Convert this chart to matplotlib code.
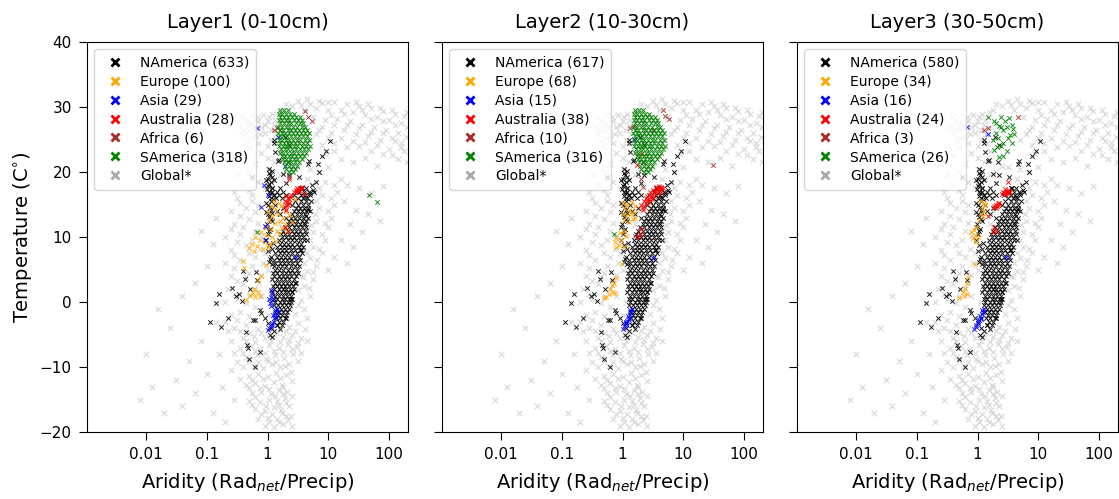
import numpy as np
import matplotlib.pyplot as plt
from matplotlib.lines import Line2D

# points are (log10 aridity, temperature in C)
TITLES = ["Layer1 (0-10cm)", "Layer2 (10-30cm)", "Layer3 (30-50cm)"]
REGIONS = ["NAmerica", "Europe", "Asia", "Australia", "Africa", "SAmerica"]
COLORS = ["black", "orange", "blue", "red", "brown", "green"]
COUNTS = [
    [633, 100, 29, 28, 6, 318],
    [617, 68, 15, 38, 10, 316],
    [580, 34, 16, 24, 3, 26],
]

GLOBAL = [
    (-0.05, -19), (0.1, -19.2), (0.25, -18.8), (0.4, -19), (-0.15, -18), (0.0, -17.8),
    (0.15, -18), (0.3, -17.5), (-0.2, -16.5), (-0.05, -16.8), (0.1, -16.2), (0.22, -16.6),
    (0.35, -16), (-0.3, -15.2), (-0.12, -15.4), (0.02, -15), (0.15, -15.3), (0.28, -14.8),
    (-0.25, -14), (-0.1, -13.8), (0.05, -14.2), (0.18, -13.6), (0.32, -13.9), (-0.35, -12.8),
    (-0.2, -12.5), (-0.05, -12.9), (0.1, -12.3), (0.24, -12.7), (0.4, -12.2), (-0.3, -11.4),
    (-0.15, -11), (0.0, -11.5), (0.14, -10.9), (0.3, -11.2), (-0.4, -10), (-0.22, -9.8),
    (-0.08, -10.2), (0.07, -9.6), (0.2, -10), (0.36, -9.5), (-0.35, -8.5), (-0.18, -8.2),
    (-0.03, -8.7), (0.12, -8.1), (0.27, -8.6), (0.42, -8), (-0.45, -7), (-0.28, -6.8),
    (-0.12, -7.2), (0.03, -6.6), (0.18, -7), (0.33, -6.5), (0.48, -6.9), (-0.4, -5.5),
    (-0.22, -5.2), (-0.05, -5.6), (0.1, -5.1), (0.25, -5.4), (0.4, -5), (0.55, -5.5),
    (0.03, -18.4), (0.18, -18.5), (0.33, -18.2), (-0.1, -17.2), (0.08, -17.3), (0.23, -17.1),
    (0.38, -17.6), (-0.25, -15.8), (-0.03, -16.0), (0.18, -15.9), (0.3, -15.6), (-0.2, -14.6),
    (0.12, -14.5), (0.25, -14.2), (0.4, -14.5), (-0.3, -13.2), (-0.12, -13.2), (0.03, -13.4),
    (0.25, -13.1), (-0.45, -11.8), (-0.25, -12.0), (-0.08, -11.8), (0.2, -11.7), (0.38, -10.7),
    (-0.5, -9.2), (-0.3, -9.0), (-0.15, -9.3), (0.0, -9.0), (0.14, -9.2), (0.28, -9.8),
    (0.5, -9.0), (-0.55, -7.8), (-0.4, -7.8), (-0.2, -7.6), (-0.05, -7.9), (0.1, -7.5),
    (0.25, -7.7), (0.4, -7.3), (0.55, -7.8), (-0.6, -6.0), (-0.35, -6.0), (-0.2, -6.2),
    (0.05, -6.0), (0.2, -6.2), (0.35, -5.8), (0.5, -6.3), (0.65, -6.0), (-0.65, -4.5),
    (-0.45, -4.5), (-0.3, -4.8), (-0.1, -4.7), (0.15, -4.8), (0.3, -4.5), (0.45, -4.4),
    (0.62, -4.2),
    (-0.55, -4), (-0.35, -3.5), (-0.15, -4.2), (0.35, -3.8), (0.5, -3.2), (-0.6, -2),
    (-0.45, -1.5), (0.45, -1.8), (0.6, -1), (-0.7, 0), (-0.5, 0.5), (0.55, 0.3), (0.7, 1),
    (-0.65, 2), (-0.4, 2.8), (0.6, 2.5), (0.75, 3.5), (-0.6, 4), (-0.3, 4.5), (0.65, 4.8),
    (0.8, 5.5), (-0.7, 6), (-0.45, 6.5), (-0.2, 7), (0.7, 6.8), (0.9, 7.5), (-0.6, 8),
    (-0.35, 8.8), (0.75, 8.5), (0.95, 9.5), (-0.7, 10), (-0.45, 10.5), (-0.2, 11),
    (0.75, 10.8), (1.0, 11.5), (-0.55, 12), (-0.3, 12.8), (0.8, 12.5), (1.05, 13),
    (-0.6, 14), (-0.35, 14.5), (-0.15, 15), (0.85, 14.5), (1.1, 15), (-0.5, 16),
    (-0.25, 16.5), (0.9, 16.5), (1.15, 17), (-0.4, 18), (-0.15, 18.5), (0.1, 19),
    (0.65, 19), (0.95, 18.5), (1.2, 19), (-0.3, 20), (0.0, 20.5), (0.3, 20), (0.7, 20.5),
    (1.0, 20.8), (0.0, -2), (0.05, 0), (-0.1, 1), (-0.15, 3), (0.0, 5), (-0.05, 7.5),
    (0.1, 9), (0.2, 12), (0.25, 14), (0.6, 8), (0.55, 4), (0.65, 11),
    (-0.7, -3), (-0.5, -2.8), (-0.3, -2.2), (-0.2, -0.8), (-0.35, -0.2), (0.5, -0.5),
    (0.65, -2.5), (-0.55, 1.2), (-0.3, 1.0), (-0.2, 2.0), (0.5, 1.8), (0.68, 2.2),
    (-0.5, 3.3), (-0.35, 3.8), (-0.1, 4.2), (0.58, 3.8), (0.75, 4.6), (-0.55, 5.2),
    (-0.25, 5.5), (-0.08, 6.0), (0.6, 6.0), (0.82, 6.5), (-0.55, 7.2), (-0.3, 7.5),
    (-0.12, 8.2), (0.65, 7.6), (0.85, 8.2), (-0.5, 9.3), (-0.25, 9.5), (-0.1, 10.2),
    (0.7, 9.6), (0.9, 10.5), (-0.6, 11.2), (-0.4, 11.5), (-0.15, 12.2), (0.72, 11.8),
    (0.95, 12.2), (-0.45, 13.2), (-0.2, 13.8), (0.78, 13.5), (1.0, 14.0), (-0.45, 15.2),
    (-0.25, 15.6), (0.8, 15.6), (1.05, 16.0), (-0.55, 17.0), (-0.3, 17.3), (-0.05, 17.5),
    (0.85, 17.5), (1.1, 18.0), (-0.25, 19.0), (0.0, 18.0), (0.2, 19.5), (0.5, 20.8),
    (0.85, 20.0), (-0.5, 19.5), (-0.2, 21.2), (0.1, 21.5), (0.4, 21.0), (-0.4, 22.5),
    (-0.1, 23.0), (0.2, 23.3), (0.0, 22.2), (-0.3, 23.8),
    (-0.45, 27), (-0.35, 28), (-0.3, 26.5), (-0.25, 27.5), (-0.2, 25.5), (-0.18, 28.5),
    (-0.1, 27), (-0.05, 26), (-0.08, 28.8), (0.0, 27.8), (0.05, 25), (0.08, 29),
    (0.12, 28), (0.15, 24.5), (-0.4, 25.8), (0.0, 24), (-0.15, 24.5),
    (-0.42, 28.4), (-0.38, 26.5), (-0.32, 27.2), (-0.28, 25.2), (-0.22, 26.8), (-0.15, 27.8),
    (-0.12, 25.8), (-0.05, 27.3), (0.02, 28.5), (0.05, 26.5), (0.1, 27.3), (0.14, 25.8),
    (0.18, 29.2), (-0.25, 28.8), (0.2, 27), (-0.35, 24.8),
    (0.3, 30.5), (0.5, 31), (0.7, 30.5), (0.6, 29.5), (0.8, 29.8), (0.75, 28.5), (0.9, 30.6),
    (1.0, 29.5), (0.95, 28), (1.1, 30.8), (1.2, 29.6), (1.15, 28.2), (1.3, 30.5), (1.4, 29.3),
    (1.35, 27.8), (1.5, 30.2), (1.6, 28.8), (1.55, 27.2), (1.7, 29.8), (1.8, 28.5), (1.75, 27),
    (1.9, 29.4), (2.0, 28), (1.95, 26.5), (2.1, 29), (2.2, 27.6), (2.15, 26), (2.25, 28.6),
    (2.28, 25.4), (2.2, 24.5), (2.25, 23.2), (2.1, 24.8), (2.15, 22), (0.85, 26.5),
    (1.05, 26), (1.25, 26.5), (1.45, 25.8), (1.65, 25.5), (1.85, 25), (0.7, 25), (0.9, 24.2),
    (1.1, 24.5), (1.3, 23.8), (1.5, 24), (2.0, 23.5),
    (0.25, 29.5), (0.4, 30.2), (0.55, 30.3), (0.65, 31.2), (0.85, 31), (1.0, 30.8),
    (1.05, 28.8), (1.25, 29.0), (1.45, 30.8), (1.55, 29.5), (1.65, 30.5), (1.85, 29.9),
    (2.05, 29.6), (2.3, 29.2), (1.7, 28.2), (1.9, 27.8), (2.1, 27.2), (2.3, 27.0),
    (1.1, 27.3), (1.3, 27.2), (1.5, 26.8), (1.7, 26.2), (1.9, 26.0), (2.05, 25.2),
    (0.9, 27.0), (0.8, 25.8), (1.0, 25.2), (1.2, 25.3), (1.4, 24.8), (1.6, 24.6),
    (1.8, 24.2), (2.2, 23.8), (2.3, 21.5), (2.05, 22.6), (1.9, 22.8), (1.7, 23.2),
    (0.95, 22.8), (1.1, 23.2),
    (1.2, 22), (1.4, 21.5), (1.6, 22.2), (1.8, 21), (1.3, 18), (1.5, 17.5), (1.7, 16.8),
    (1.9, 17.8), (1.25, 15.5), (1.45, 14.2), (1.65, 13.5), (1.85, 12.5), (1.35, 12),
    (1.55, 10.8), (1.2, 9.5), (1.4, 8.5), (1.1, 7), (1.3, 6), (1.0, 5),
    (-2.1, -15), (-1.9, -13), (-1.7, -17), (-1.5, -12), (-1.4, -16), (-1.3, -9), (-1.2, -14),
    (-1.1, -6), (-1.0, -11), (-0.9, -17), (-0.85, -3), (-0.8, -8), (-0.75, -13), (-1.6, -4),
    (-1.4, 1), (-1.2, 3), (-1.0, 5.5), (-0.9, 9), (-0.85, 13), (-1.1, 11), (-2.0, -8),
    (-1.8, -1), (-0.7, -18.5), (-0.6, -10.5), (-0.55, -15),
]

# dense North America column, rows of (temperature, [log10 aridity ...])
NAMERICA_ROWS = [
    (-3.5, [0.16, 0.23]), (-3.0, [0.19, 0.26]), (-2.5, [0.14, 0.21, 0.28]),
    (-2.0, [0.17, 0.24, 0.3]), (-1.5, [0.12, 0.19, 0.26, 0.32]),
    (-1.0, [0.15, 0.22, 0.29, 0.35]), (-0.5, [0.11, 0.17, 0.24, 0.3, 0.37]),
    (0.0, [0.13, 0.2, 0.27, 0.33, 0.39]), (0.5, [0.1, 0.16, 0.23, 0.29, 0.35, 0.41]),
    (1.0, [0.12, 0.19, 0.26, 0.32, 0.38]), (1.5, [0.08, 0.15, 0.22, 0.28, 0.34, 0.41]),
    (2.0, [0.11, 0.18, 0.25, 0.31, 0.37, 0.44]), (2.5, [0.09, 0.16, 0.22, 0.29, 0.35, 0.42]),
    (3.0, [0.12, 0.19, 0.26, 0.32, 0.39, 0.46]), (3.5, [0.08, 0.15, 0.22, 0.29, 0.36, 0.43]),
    (4.0, [0.11, 0.18, 0.25, 0.32, 0.39, 0.47]), (4.5, [0.09, 0.16, 0.23, 0.3, 0.37, 0.44, 0.5]),
    (5.0, [0.12, 0.19, 0.26, 0.33, 0.4, 0.48]), (5.5, [0.1, 0.17, 0.24, 0.31, 0.38, 0.45, 0.52]),
    (6.0, [0.13, 0.2, 0.27, 0.34, 0.41, 0.49]), (6.5, [0.11, 0.18, 0.25, 0.32, 0.39, 0.46, 0.54]),
    (7.0, [0.15, 0.22, 0.29, 0.36, 0.43, 0.51]), (7.5, [0.13, 0.2, 0.27, 0.34, 0.41, 0.48, 0.56]),
    (8.0, [0.17, 0.24, 0.31, 0.38, 0.45, 0.53]), (8.5, [0.16, 0.23, 0.3, 0.37, 0.44, 0.51, 0.58]),
    (9.0, [0.2, 0.27, 0.34, 0.41, 0.48, 0.55]), (9.5, [0.19, 0.26, 0.33, 0.4, 0.47, 0.54, 0.6]),
    (10.0, [0.23, 0.3, 0.37, 0.44, 0.51, 0.58]), (10.5, [0.22, 0.29, 0.36, 0.43, 0.5, 0.57, 0.63]),
    (11.0, [0.26, 0.33, 0.4, 0.47, 0.54, 0.61]), (11.5, [0.29, 0.36, 0.43, 0.5, 0.57, 0.64]),
    (12.0, [0.33, 0.4, 0.47, 0.54, 0.61]), (12.5, [0.35, 0.42, 0.49, 0.56, 0.63]),
    (13.0, [0.38, 0.45, 0.52, 0.59, 0.66]), (13.5, [0.41, 0.48, 0.55, 0.62]),
    (14.0, [0.43, 0.5, 0.57, 0.64, 0.7]), (14.5, [0.46, 0.53, 0.6, 0.67]),
    (15.0, [0.4, 0.5, 0.58, 0.66]), (15.5, [0.45, 0.55, 0.63, 0.72]),
    (16.0, [0.06, 0.14, 0.24, 0.5, 0.58, 0.65]), (16.5, [0.1, 0.19, 0.3, 0.44, 0.55, 0.62, 0.7]),
    (17.0, [0.03, 0.15, 0.26, 0.52, 0.6, 0.68, 0.77]), (17.5, [0.08, 0.2, 0.57, 0.64]),
]
NAMERICA_EXTRA = [
    (0.0, 10.5), (0.04, 11.2), (-0.01, 12.0), (0.05, 12.8), (0.01, 13.5), (0.06, 14.2),
    (0.0, 14.9), (0.05, 15.5), (0.02, 16.3), (0.07, 17.0), (0.01, 17.8), (0.05, 18.4),
    (0.0, 19.0), (0.04, 19.6), (0.08, 20.1), (0.02, 20.5), (0.1, 18.8), (0.12, 15.0),
    (0.15, 14.0), (0.2, 13.5), (0.25, 14.5), (0.3, 13.0), (-0.02, 9.5), (0.03, 8.7),
    (0.0, 7.8), (0.05, 7.0), (0.02, 6.2),
    (0.03, 10.9), (-0.03, 11.6), (0.07, 12.4), (0.03, 13.1), (-0.02, 13.9), (0.08, 13.7),
    (0.04, 14.6), (-0.02, 15.3), (0.09, 15.9), (0.04, 16.8), (-0.01, 17.4), (0.08, 17.6),
    (0.03, 18.1), (-0.02, 18.7), (0.07, 19.2), (0.02, 19.9), (0.1, 16.5), (0.09, 9.1),
    (0.07, 8.2), (0.04, 6.6), (0.08, 5.8),
    (-0.25, 19.2), (-0.8, 1.2), (-0.84, -0.2), (-0.94, -3.0), (-0.77, -3.9), (-0.65, -2.4),
    (-0.58, 2.1), (-0.52, 1.0), (-0.47, 1.3), (-0.4, 4.8), (-0.42, 0.2), (-0.37, 3.6),
    (-0.29, 2.0), (-0.19, 4.6), (-0.17, 3.4), (-0.36, -4.6), (-0.24, -2.8), (-0.13, -1.2),
    (-0.34, -6.6), (-0.33, -7.1), (-0.13, -7.7), (-0.3, -8.8), (-0.21, -10.0), (0.16, -3.6),
    (0.04, -5.0), (0.4, 1.6),
    (1.02, 24.7), (0.96, 23.2), (0.9, 22.4), (0.83, 21.3), (0.84, 20.0), (0.68, 21.7),
    (0.66, 21.3), (0.79, 18.5), (0.73, 18.0), (0.75, 17.2), (0.69, 16.7), (0.63, 16.2),
    (0.55, 17.6), (0.52, 19.3), (0.36, 19.5), (0.25, 19.7), (0.31, 18.3), (0.66, 14.2),
    (0.63, 13.2), (0.6, 12.2),
    (0.28, 25.4), (0.35, 24.2), (0.1, 24.4), (0.13, 23.1), (0.19, 21.8), (0.33, 21.6),
    (0.1, 24.9), (0.17, 21.7),
    (-0.1, -1.7), (-0.05, -2.5), (0.0, -3.2), (0.05, -4.0), (0.1, -4.5), (0.07, -5.4),
    (-0.21, -2.8), (0.2, -4.2), (0.3, -2.5), (0.38, 0.5), (0.45, 3.0), (0.55, 8.0), (0.65, 9.5),
]

SAMERICA_ROWS = [
    (29.5, [0.2, 0.27, 0.34]), (29.0, [0.18, 0.24, 0.3, 0.37, 0.44]),
    (28.5, [0.21, 0.27, 0.33, 0.4, 0.47, 0.53]), (28.0, [0.18, 0.24, 0.3, 0.36, 0.43, 0.5, 0.56]),
    (27.5, [0.21, 0.27, 0.33, 0.39, 0.46, 0.53, 0.59]),
    (27.0, [0.17, 0.23, 0.3, 0.36, 0.42, 0.49, 0.56, 0.62]),
    (26.5, [0.2, 0.26, 0.33, 0.39, 0.45, 0.52, 0.59, 0.65]),
    (26.0, [0.17, 0.23, 0.29, 0.36, 0.42, 0.48, 0.55, 0.62, 0.68]),
    (25.5, [0.2, 0.26, 0.32, 0.39, 0.45, 0.51, 0.58, 0.65]),
    (25.0, [0.18, 0.24, 0.3, 0.36, 0.42, 0.48, 0.54, 0.61, 0.68]),
    (24.5, [0.21, 0.27, 0.33, 0.39, 0.45, 0.51, 0.58, 0.65]),
    (24.0, [0.19, 0.25, 0.31, 0.37, 0.43, 0.49, 0.56, 0.63, 0.7]),
    (23.5, [0.22, 0.28, 0.34, 0.4, 0.46, 0.53, 0.6, 0.66]),
    (23.0, [0.2, 0.26, 0.32, 0.38, 0.44, 0.5, 0.57, 0.63]),
    (22.5, [0.23, 0.29, 0.35, 0.41, 0.47, 0.54, 0.6]),
    (22.0, [0.25, 0.31, 0.37, 0.43, 0.49, 0.56]), (21.5, [0.27, 0.33, 0.39, 0.45, 0.52]),
    (21.0, [0.28, 0.35, 0.42, 0.49]), (20.5, [0.31, 0.38, 0.45]), (20.0, [0.35, 0.42]),
]
SAMERICA_EXTRA_1 = [(1.67, 16.5), (1.8, 15.4), (-0.18, 10.8)]
SAMERICA_EXTRA_2 = [(-0.14, 10.5)]
SAMERICA_3 = [
    (0.17, 28.4), (0.27, 27.9), (0.39, 28.4), (0.51, 28.3), (0.35, 27.1), (0.48, 26.9),
    (0.56, 27.2), (0.42, 26.5), (0.31, 26.0), (0.33, 25.3), (0.5, 25.2), (0.56, 24.5),
    (0.42, 24.5), (0.32, 23.9), (0.27, 23.4), (0.35, 22.3), (0.42, 22.5), (0.59, 26.6),
    (0.54, 25.7), (0.39, 26.9), (0.3, 27.5), (0.45, 27.9), (0.25, 25.0), (0.38, 24.0),
    (0.48, 23.2), (0.6, 25.8),
]

EUROPE_1 = [
    (0.1, 15.5), (0.18, 15.2), (0.05, 14.7), (0.13, 14.3), (0.22, 14.8), (0.3, 14.0),
    (0.0, 13.8), (0.08, 13.3), (0.17, 13.6), (0.25, 13.0), (0.35, 13.4), (0.03, 12.6),
    (0.12, 12.2), (0.2, 12.5), (0.28, 12.0), (0.4, 12.3), (-0.03, 11.6), (0.06, 11.3),
    (0.15, 11.0), (0.23, 11.4), (0.32, 10.9), (-0.1, 10.8), (-0.02, 10.3), (0.08, 10.0),
    (0.18, 10.4), (-0.2, 10.0), (-0.13, 9.5), (-0.05, 9.2), (0.04, 9.0), (0.12, 9.4),
    (-0.25, 9.0), (-0.17, 8.6), (-0.08, 8.2), (0.0, 8.5), (-0.3, 8.3), (-0.22, 7.8),
    (0.45, 15.8), (0.35, 15.3), (-0.4, 6.3), (-0.38, 5.3), (-0.03, 5.7), (-0.15, 3.4),
    (-0.1, 4.0), (-0.29, 1.1), (-0.24, 1.4), (-0.2, 0.8), (-0.16, 1.5), (-0.13, 0.9),
    (-0.22, 2.0), (-0.36, 0.3),
]
EUROPE_2 = [
    (0.0, 15.3), (0.08, 15.0), (0.15, 15.4), (0.2, 14.8), (0.03, 14.5), (0.11, 14.2),
    (0.18, 13.9), (0.0, 13.6), (0.07, 13.2), (0.14, 13.5), (0.21, 13.0), (0.03, 12.6),
    (0.1, 12.3), (0.17, 12.7), (0.02, 11.0), (-0.04, 10.6), (0.05, 10.2), (-0.1, 9.9),
    (-0.02, 9.6), (-0.13, 9.2), (-0.06, 8.8), (0.03, 8.5), (-0.1, 8.4), (-0.01, 5.9),
    (-0.1, 3.7), (-0.14, 3.0), (-0.2, 2.0), (-0.16, 1.6), (-0.22, 1.2), (-0.27, 0.8),
    (-0.31, 0.6), (-0.12, 1.4), (-0.18, 2.6),
]
EUROPE_3 = [
    (0.05, 15.6), (0.1, 15.3), (0.13, 14.9), (0.08, 14.5), (0.11, 14.0), (0.06, 13.6),
    (0.09, 13.2), (0.03, 12.6), (-0.02, 11.5), (-0.06, 11.1), (-0.1, 10.7), (-0.04, 10.3),
    (-0.08, 9.9), (0.0, 10.0), (-0.02, 9.2), (-0.05, 5.9), (-0.16, 3.8), (-0.18, 3.0),
    (-0.2, 2.2), (-0.24, 1.5), (-0.22, 1.0), (-0.3, 0.6), (-0.17, 1.2),
]

ASIA_1 = [
    (0.06, 1.8), (0.08, 1.2), (0.05, 0.8), (0.07, 0.3), (0.04, -0.2), (0.06, -0.6),
    (0.15, -1.0), (0.17, -1.5), (0.13, -1.8), (0.14, -2.3), (0.1, -2.5), (0.11, -3.0),
    (0.07, -3.2), (0.05, -3.7), (0.02, -4.0), (0.0, -4.3), (0.09, -2.0), (0.12, -1.3),
    (0.03, 0.5), (0.08, -3.5), (-0.17, 26.8), (0.17, 25.4), (-0.06, 18.0), (-0.1, 14.6),
    (-0.04, 11.7), (0.47, 7.0), (-0.05, 9.5), (0.0, 16.5), (0.28, 21.0),
]
ASIA_2 = [
    (0.16, -1.1), (0.14, -1.6), (0.12, -2.0), (0.1, -2.5), (0.08, -2.9), (0.06, -3.3),
    (0.03, -3.7), (0.0, -4.2), (0.13, -1.3), (0.09, -2.2), (0.05, -3.0), (0.11, -2.7),
    (0.07, -3.6), (0.19, 25.1), (0.5, 6.8),
]
ASIA_3 = [
    (0.11, -1.0), (0.09, -1.5), (0.07, -1.9), (0.05, -2.4), (0.03, -2.8), (0.01, -3.2),
    (-0.02, -3.6), (-0.06, -4.1), (0.08, -1.2), (0.04, -2.1), (0.0, -2.9), (-0.03, -3.9),
    (0.06, -2.6), (-0.17, 26.9), (0.17, 25.9), (0.46, 7.0),
]

AUSTRALIA_1 = [
    (0.44, 17.0), (0.47, 17.2), (0.5, 17.4), (0.53, 17.6), (0.56, 17.7), (0.46, 16.9),
    (0.49, 17.1), (0.52, 17.3), (0.55, 17.5), (0.48, 17.5), (0.3, 15.0), (0.32, 15.4),
    (0.35, 15.8), (0.37, 16.2), (0.39, 16.5), (0.29, 15.6), (0.33, 16.0), (0.36, 15.2),
    (0.31, 16.3), (0.34, 14.9), (0.28, 14.6), (0.3, 14.2), (0.29, 11.6), (0.33, 11.0),
    (0.36, 19.0), (0.6, 16.6),
]
AUSTRALIA_2 = [
    (0.33, 14.5), (0.36, 14.8), (0.38, 15.2), (0.35, 15.5), (0.4, 15.6), (0.43, 15.9),
    (0.41, 16.3), (0.46, 16.2), (0.48, 16.6), (0.45, 16.9), (0.51, 16.8), (0.53, 17.1),
    (0.5, 17.3), (0.56, 17.2), (0.58, 17.5), (0.61, 17.4), (0.63, 17.7), (0.66, 17.5),
    (0.6, 17.9), (0.55, 17.7), (0.31, 15.0), (0.34, 14.1), (0.38, 16.0), (0.44, 15.4),
    (0.48, 15.9), (0.57, 16.8), (0.63, 16.9), (0.52, 16.3), (0.28, 10.5), (0.23, 21.1),
    (0.31, 22.7), (0.25, 10.0), (0.3, 11.2),
]
AUSTRALIA_3 = [
    (0.4, 16.6), (0.43, 16.8), (0.46, 16.9), (0.49, 17.0), (0.52, 17.1), (0.45, 16.6),
    (0.48, 16.7), (0.51, 16.8), (0.42, 17.0), (0.5, 17.3), (0.27, 14.6), (0.29, 14.8),
    (0.31, 15.0), (0.33, 15.2), (0.35, 15.3), (0.3, 14.5), (0.32, 14.7), (0.34, 14.9),
    (0.5, 18.5), (0.27, 11.5), (0.26, 10.8), (0.17, 13.3), (0.3, 11.0), (0.45, 17.4),
]

AFRICA_1 = [(0.61, 29.4), (0.66, 28.5), (0.73, 27.8), (0.11, 26.5), (0.16, 26.7), (0.35, 19.2)]
AFRICA_2 = [
    (0.66, 29.6), (0.7, 28.6), (0.76, 28.1), (0.12, 26.8), (0.18, 27.1), (1.48, 21.1),
    (0.31, 18.9), (0.2, 10.2), (0.34, 17.7), (0.5, 26.5),
]
AFRICA_3 = [(0.11, 26.5), (0.17, 26.8), (0.66, 28.4)]


def rows_to_points(rows):
    return [(x, t) for t, xs in rows for x in xs]


namerica = rows_to_points(NAMERICA_ROWS) + NAMERICA_EXTRA
samerica_blob = rows_to_points(SAMERICA_ROWS)

layers = [
    [namerica, EUROPE_1, ASIA_1, AUSTRALIA_1, AFRICA_1, samerica_blob + SAMERICA_EXTRA_1],
    [namerica, EUROPE_2, ASIA_2, AUSTRALIA_2, AFRICA_2, samerica_blob + SAMERICA_EXTRA_2],
    [namerica, EUROPE_3, ASIA_3, AUSTRALIA_3, AFRICA_3, SAMERICA_3],
]


def scatter(ax, pts, color, size=10, lw=0.7, **kw):
    pts = np.array(pts)
    ax.scatter(10 ** pts[:, 0], pts[:, 1], marker="x", color=color, s=size,
               linewidths=lw, **kw)


fig = plt.figure(figsize=(11.19, 4.99), dpi=100)

for i in range(3):
    ax = fig.add_axes([(87 + 355 * i) / 1119, 67 / 499, 321 / 1119, 390 / 499])
    scatter(ax, GLOBAL, "#c4c4c4", size=16, lw=0.9, alpha=0.6, zorder=1)
    for pts, c in zip(layers[i], COLORS):
        scatter(ax, pts, c, alpha=0.9, zorder=2)

    ax.set_xscale("log")
    ax.set_xlim(10 ** -2.97, 10 ** 2.31)
    ax.set_ylim(-20, 40)
    ax.set_xticks([0.01, 0.1, 1, 10, 100])
    ax.set_xticklabels(["0.01", "0.1", "1", "10", "100"])
    ax.minorticks_off()
    ax.set_yticks(range(-20, 41, 10))
    ax.tick_params(direction="out", length=6, pad=5, labelsize=11)
    if i == 0:
        ax.set_ylabel("Temperature (C$^{\\circ}$)", fontsize=14)
    else:
        ax.set_yticklabels([])
    ax.set_xlabel("Aridity (Rad$_{net}$/Precip)", fontsize=14, labelpad=6)
    ax.set_title(TITLES[i], fontsize=14, pad=10)

    handles = [
        Line2D([], [], marker="x", ls="", color=c, markersize=6, markeredgewidth=2)
        for c in COLORS
    ]
    handles.append(Line2D([], [], marker="x", ls="", color="darkgray", markersize=6,
                          markeredgewidth=2))
    labels = [f"{r} ({n})" for r, n in zip(REGIONS, COUNTS[i])] + ["Global*"]
    ax.legend(handles, labels, loc="upper left", fontsize=10, labelspacing=0.35,
              handletextpad=0.8, borderpad=0.5)

fig.savefig("out.png", dpi=100)
